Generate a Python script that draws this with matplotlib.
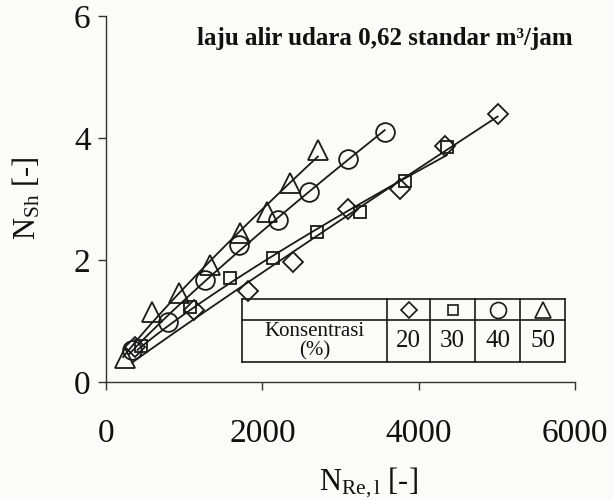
import numpy as np
import matplotlib
matplotlib.use("Agg")
import matplotlib.pyplot as plt
from matplotlib.lines import Line2D

plt.rcParams["font.family"] = ["Liberation Serif", "DejaVu Serif"]
plt.rcParams["mathtext.fontset"] = "custom"
plt.rcParams["mathtext.rm"] = "Liberation Serif"
plt.rcParams["mathtext.it"] = "Liberation Serif:italic"
plt.rcParams["mathtext.bf"] = "Liberation Serif:bold"

# Konsentrasi (%) and measured points N_Re,l vs N_Sh per concentration
konsentrasi = [20, 30, 40, 50]
re_20 = [371, 1125, 1815, 2390, 3093, 3757, 4332, 5010]
sh_20 = [0.57, 1.18, 1.49, 1.97, 2.84, 3.16, 3.87, 4.39]
re_30 = [447, 1074, 1585, 2134, 2697, 3246, 3821, 4358]
sh_30 = [0.59, 1.23, 1.70, 2.03, 2.46, 2.79, 3.30, 3.85]
re_40 = [332, 792, 1265, 1700, 2198, 2594, 3093, 3566]
sh_40 = [0.52, 0.98, 1.67, 2.25, 2.66, 3.11, 3.66, 4.10]
re_50 = [243, 588, 933, 1329, 1712, 2058, 2352, 2710]
sh_50 = [0.39, 1.15, 1.46, 1.92, 2.44, 2.79, 3.26, 3.80]

x_ticks = [0, 2000, 4000, 6000]
y_ticks = [0, 2, 4, 6]

series = [
    (re_20, sh_20, "D", 10),
    (re_30, sh_30, "s", 9),
    (re_40, sh_40, "o", 13.5),
    (re_50, sh_50, "^", 14),
]


def power_fit(x, y):
    """Least-squares fit of y = a * x**b (residuals in linear space)."""
    best = None
    for b in np.linspace(0.5, 1.5, 2001):
        xb = x ** b
        a = np.sum(y * xb) / np.sum(xb * xb)
        sse = np.sum((y - a * xb) ** 2)
        if best is None or sse < best[0]:
            best = (sse, a, b)
    return best[1], best[2]


W, H = 613, 500
fig = plt.figure(figsize=(W / 100, H / 100), dpi=100, facecolor="#fbfbfa")

# axes placed in pixel terms
x0, x1, y0, y1 = 106, 575, 382, 16
ax = fig.add_axes([x0 / W, 1 - y0 / H, (x1 - x0) / W, (y0 - y1) / H])
ax.set_facecolor("none")

for re, sh, mk, ms in series:
    re = np.asarray(re, float)
    sh = np.asarray(sh, float)
    a, b = power_fit(re, sh)
    xf = np.linspace(re.min() * 0.9, re.max(), 200)
    ax.plot(xf, a * xf ** b, color="#1a1a1a", lw=1.3, zorder=2)
    ax.plot(re, sh, ls="none", marker=mk, ms=ms, mfc="none",
            mec="#1a1a1a", mew=1.3, zorder=3)

ax.set_xlim(0, 6000)
ax.set_ylim(0, 6)
ax.set_xticks(x_ticks)
ax.set_yticks(y_ticks)
ax.set_xticklabels([str(v) for v in x_ticks])
ax.set_yticklabels([str(v) for v in y_ticks])
for s in ("top", "right"):
    ax.spines[s].set_visible(False)
for s in ("left", "bottom"):
    ax.spines[s].set_linewidth(1.0)
    ax.spines[s].set_color("#333333")
ax.tick_params(direction="out", length=6, width=1.0, color="#333333",
               labelsize=24, labelcolor="#111111")
ax.tick_params(axis="x", pad=20)
ax.tick_params(axis="y", pad=5)

ax.set_xlabel(r"N$_{\mathrm{Re,l}}$ [-]", fontsize=22, color="#111111")
ax.xaxis.set_label_coords((368 - x0) / (x1 - x0), (y0 - 466) / (y0 - y1))
ax.set_ylabel(r"N$_{\mathrm{Sh}}$ [-]", fontsize=22, color="#111111")
ax.yaxis.set_label_coords((42 - x0) / (x1 - x0), (y0 - 198) / (y0 - y1))

ax.text((385 - x0) / (x1 - x0), (y0 - 38) / (y0 - y1),
        "laju alir udara 0,62 standar m\u00b3/jam", transform=ax.transAxes,
        ha="center", va="center", fontsize=18, fontweight="bold", color="#111111")

# legend table
def ax_pt(px, py):
    return (px - x0) / (x1 - x0), (y0 - py) / (y0 - y1)

t_left, t_right, t_top, t_mid, t_bot = 242, 565, 299, 320, 362
cols = [387, 430, 475, 520]
lc = dict(color="#1a1a1a", lw=1.2, transform=ax.transAxes, clip_on=False)
for py in (t_top, t_mid, t_bot):
    (ax0, ay), (ax1_, _) = ax_pt(t_left, py), ax_pt(t_right, py)
    ax.add_line(Line2D([ax0, ax1_], [ay, ay], **lc))
for px in [t_left] + cols + [t_right]:
    (ax_, ay0), (_, ay1) = ax_pt(px, t_top), ax_pt(px, t_bot)
    ax.add_line(Line2D([ax_, ax_], [ay0, ay1], **lc))

tx, ty = ax_pt((t_left + cols[0]) / 2, (t_mid + t_bot) / 2)
ax.text(tx, ty, "Konsentrasi\n(%)", transform=ax.transAxes, ha="center",
        va="center", fontsize=15, linespacing=1.0, color="#111111")
edges = cols + [t_right]
for i, (k, (_, _, mk, ms)) in enumerate(zip(konsentrasi, series)):
    cx = (edges[i] + edges[i + 1]) / 2
    mx, my = ax_pt(cx, (t_top + t_mid) / 2)
    ax.plot([mx], [my], marker=mk, ms=ms * 0.85, mfc="none", mec="#1a1a1a",
            mew=1.2, transform=ax.transAxes, clip_on=False)
    nx, ny = ax_pt(cx, (t_mid + t_bot) / 2)
    ax.text(nx, ny, str(k), transform=ax.transAxes, ha="center", va="center",
            fontsize=18, color="#111111")

fig.savefig("out.png", dpi=100, facecolor=fig.get_facecolor())
